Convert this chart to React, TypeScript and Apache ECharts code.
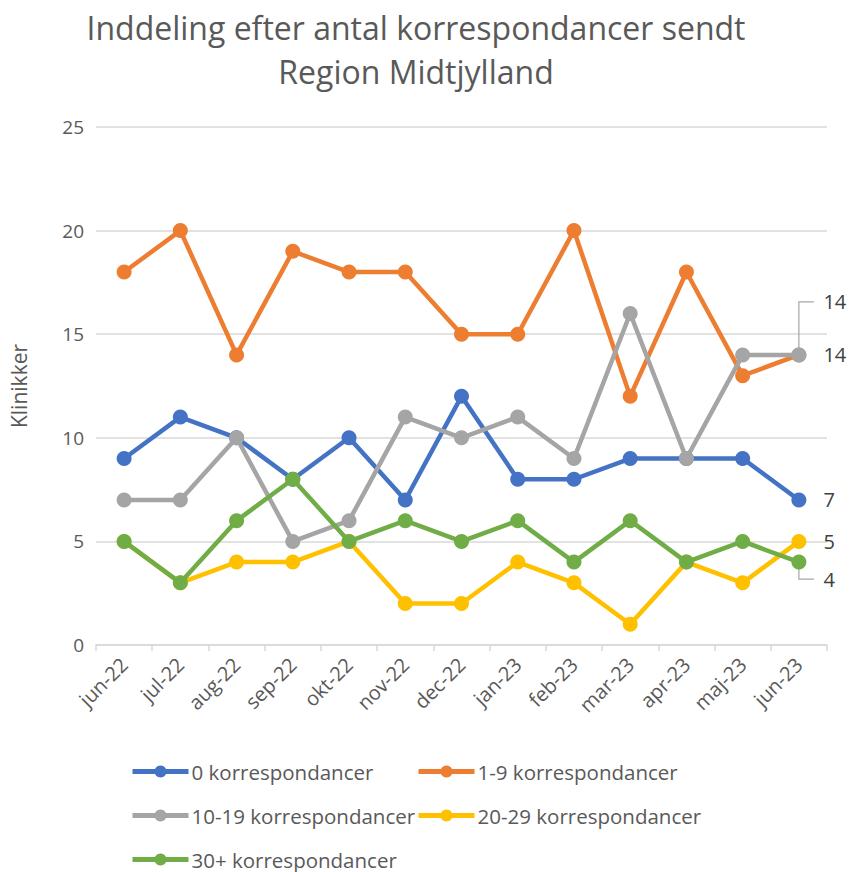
import React, { useEffect, useRef } from "react";
import * as echarts from "echarts";

const categories = ["jun-22", "jul-22", "aug-22", "sep-22", "okt-22", "nov-22", "dec-22", "jan-23", "feb-23", "mar-23", "apr-23", "maj-23", "jun-23"];
const yTicks = [0, 5, 10, 15, 20, 25];
const s0 = [9, 11, 10, 8, 10, 7, 12, 8, 8, 9, 9, 9, 7];
const s1_9 = [18, 20, 14, 19, 18, 18, 15, 15, 20, 12, 18, 13, 14];
const s10_19 = [7, 7, 10, 5, 6, 11, 10, 11, 9, 16, 9, 14, 14];
const s20_29 = [5, 3, 4, 4, 5, 2, 2, 4, 3, 1, 4, 3, 5];
const s30 = [5, 3, 6, 8, 5, 6, 5, 6, 4, 6, 4, 5, 4];
const seriesNames = ["0 korrespondancer", "1-9 korrespondancer", "10-19 korrespondancer", "20-29 korrespondancer", "30+ korrespondancer"];
const colors = ["#4472C4", "#ED7D31", "#A5A5A5", "#FFC000", "#70AD47"];
const seriesData = [s0, s1_9, s10_19, s20_29, s30];
// label offsets for last point (dy in px)
const labelDy = [0, 0, -53, 0, 17];

const FONT = "'Open Sans', 'Noto Sans', sans-serif";

export default function App() {
  const ref = useRef<HTMLDivElement>(null);
  useEffect(() => {
    if (!ref.current) return;
    const chart = echarts.init(ref.current, null, { renderer: "svg" });
    const series = seriesData.map((arr, si) => ({
      name: seriesNames[si],
      type: "line",
      data: arr.map((v, i) =>
        i === arr.length - 1
          ? {
              value: v,
              label: {
                show: true,
                position: "right",
                distance: 17,
                offset: [0, labelDy[si]],
                color: "#404040",
                fontSize: 20,
                fontFamily: FONT,
              },
            }
          : v
      ),
      symbol: "circle",
      symbolSize: 15,
      lineStyle: { width: 4.5, color: colors[si] },
      itemStyle: { color: colors[si] },
      z: 2 + si,
      emphasis: { disabled: true },
    }));
    const legendPos = [
      { left: 130, top: 761 },
      { left: 416, top: 761 },
      { left: 130, top: 805 },
      { left: 416, top: 805 },
      { left: 130, top: 849 },
    ];
    const legends = seriesNames.map((n, i) => ({
      data: [n],
      left: legendPos[i].left,
      top: legendPos[i].top,
      padding: 0,
      itemWidth: 56,
      itemHeight: 15,
      itemGap: 0,
      lineStyle: { width: 5 },
      textStyle: { color: "#595959", fontSize: 20.5, fontFamily: FONT, padding: [0, 0, 0, -2] },
      selectedMode: false,
    }));
    chart.setOption({
      animation: false,
      color: colors,
      title: {
        text: "Inddeling efter antal korrespondancer sendt\nRegion Midtjylland",
        left: 416,
        textAlign: "center",
        top: 5,
        padding: 0,
        textStyle: { color: "#595959", fontSize: 32, fontWeight: "normal", fontFamily: FONT, lineHeight: 44 },
      },
      legend: legends,
      grid: { left: 94, right: 23, top: 127, bottom: 227, containLabel: false },
      xAxis: {
        type: "category",
        data: categories,
        boundaryGap: true,
        axisLine: { lineStyle: { color: "#D9D9D9", width: 1.5 } },
        axisTick: { show: true, length: 6, lineStyle: { color: "#D9D9D9", width: 1.5 } },
        axisLabel: { rotate: 45, color: "#595959", fontSize: 20, fontFamily: FONT, margin: 16 },
      },
      yAxis: {
        type: "value",
        min: yTicks[0],
        max: yTicks[yTicks.length - 1],
        interval: 5,
        name: "Klinikker",
        nameLocation: "middle",
        nameGap: 67,
        nameTextStyle: { color: "#595959", fontSize: 21, fontFamily: FONT },
        axisLine: { show: false },
        axisTick: { show: false },
        axisLabel: { color: "#595959", fontSize: 19, fontFamily: FONT, margin: 12 },
        splitLine: { lineStyle: { color: "#D9D9D9", width: 1.5 } },
      },
      series,
    });

    // leader lines for the moved labels
    const last = categories.length - 1;
    const graphics: any[] = [];
    [2, 4].forEach((si) => {
      const p = chart.convertToPixel({ gridIndex: 0 }, [last, seriesData[si][last]]) as number[];
      const ly = p[1] + labelDy[si];
      const startY = si === 2 ? p[1] - 7 : p[1] + 7;
      graphics.push({
        type: "polyline",
        shape: { points: [[p[0], startY], [p[0], ly], [p[0] + 15, ly]] },
        style: { stroke: "#A6A6A6", lineWidth: 1.2, fill: null },
        z: 1,
        silent: true,
      });
    });
    chart.setOption({ graphic: graphics });

    return () => chart.dispose();
  }, []);
  return <div ref={ref} style={{ position: "fixed", left: 0, top: 0, width: 850, height: 872, background: "#fff" }} />;
}
